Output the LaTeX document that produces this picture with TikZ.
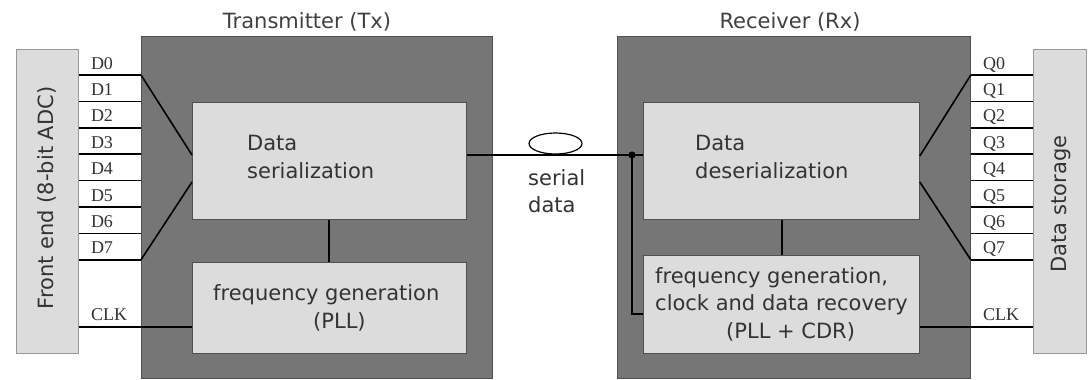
\documentclass[tikz,border=0pt]{standalone}
\usepackage{fontspec}
\newfontfamily\djs{DejaVu Sans}
\newfontfamily\lser{Liberation Serif}
\usetikzlibrary{calc,shapes.geometric}
\definecolor{darkbox}{HTML}{767676}
\definecolor{lightbox}{HTML}{DCDCDC}
\definecolor{boxline}{HTML}{505050}
\definecolor{txtgray}{HTML}{333333}
\begin{document}
\begin{tikzpicture}[x=1pt,y=-1pt,
  outer/.style={draw=boxline,line width=0.8pt,fill=darkbox,anchor=north west,inner sep=0pt},
  inner/.style={draw=boxline,line width=0.8pt,fill=lightbox,anchor=north west,inner sep=0pt},
  side/.style={draw=gray!80,line width=0.8pt,fill=lightbox,anchor=north west,inner sep=0pt},
  sans/.style={font=\djs\fontsize{21}{27.5}\selectfont,text=txtgray,inner sep=0pt},
  lbl/.style={font=\lser\fontsize{18}{20}\selectfont,text=txtgray,inner sep=0pt,anchor=base west},
  wire/.style={line width=1.6pt,black}]
\useasboundingbox (0,0) rectangle (1088,380);
\fill[white] (0,0) rectangle (1088,380);
% boxes
\node[side,minimum width=62pt,minimum height=304pt] (fe) at (16,49) {};
\node[side,minimum width=53pt,minimum height=304pt] (ds) at (1033,49) {};
\node[outer,minimum width=351pt,minimum height=342pt] (tx) at (141,36) {};
\node[outer,minimum width=353pt,minimum height=342pt] (rx) at (617,36) {};
\node[inner,minimum width=274pt,minimum height=117pt] (ser) at (192,102) {};
\node[inner,minimum width=274pt,minimum height=91pt] (txf) at (192,262) {};
\node[inner,minimum width=276pt,minimum height=117pt] (des) at (643,102) {};
\node[inner,minimum width=276pt,minimum height=98pt] (rxf) at (643,255) {};
% titles
\node[sans,text=black!75] (txt) at (307,22) {Transmitter (Tx)};
\node[sans,text=black!75] (rxt) at (790,22) {Receiver (Rx)};
\node[sans,rotate=90] (fet) at (47,198) {Front end (8-bit ADC)};
\node[sans,rotate=90] (dst) at (1061,204) {Data storage};
% texts inside
\node[sans,align=left,anchor=west] (sert) at (247,157) {Data\\serialization};
\node[sans,align=left,anchor=west] (dest) at (695,157) {Data\\deserialization};
\node[sans,align=left,anchor=west] (txft) at (213,308) {frequency generation\\\hspace*{100pt}(PLL)};
\node[sans,align=left,anchor=west] (rxft) at (655,304) {frequency generation,\\clock and data recovery\\\hspace*{71pt}(PLL + CDR)};
\node[sans,align=left,anchor=west] (sdt) at (528,191) {serial\\data};
% parallel data lines
\foreach \i in {0,...,7}{
  \path (fe.east |- 0,{75+26.4*\i}) coordinate (da\i) (tx.west |- 0,{75+26.4*\i}) coordinate (db\i);
  \draw[wire] (da\i) -- (db\i);
  \node[lbl] (dlab\i) at ($(da\i)+(12,-6)$) {D\i};
  \path (rx.east |- 0,{75+26.4*\i}) coordinate (qa\i) (ds.west |- 0,{75+26.4*\i}) coordinate (qb\i);
  \draw[wire] (qa\i) -- (qb\i);
  \node[lbl] (qlab\i) at ($(qa\i)+(12,-6)$) {Q\i};
}
% fan in / out
\coordinate (s1) at (ser.west |- 0,155);
\coordinate (s2) at (ser.west |- 0,182);
\draw[wire] (db0) -- (s1);
\draw[wire] (db7) -- (s2);
\coordinate (r1) at (des.east |- 0,156);
\coordinate (r2) at (des.east |- 0,182);
\draw[wire] (qa0) -- (r1);
\draw[wire] (qa7) -- (r2);
% clock lines
\coordinate (c1) at (fe.east |- 0,327);
\draw[wire] (c1) -- (txf.west |- c1);
\node[lbl] (clk1) at ($(c1)+(12,-7)$) {CLK};
\coordinate (c2) at (ds.west |- 0,327);
\draw[wire] (rxf.east |- c2) -- (c2);
\node[lbl] (clk2) at ($(rx.east |- c2)+(12,-7)$) {CLK};
% internal links
\draw[wire] (ser.south -| 329,0) -- (txf.north -| 329,0);
\draw[wire] (des.south -| 782,0) -- (rxf.north -| 782,0);
% serial link
\coordinate (sa) at (ser.east |- 0,155);
\coordinate (sb) at (des.west |- 0,155);
\draw[wire] (sa) -- (sb);
\node[draw=black,line width=1.2pt,ellipse,minimum width=53pt,minimum height=21pt,inner sep=0pt] (loop) at (555.5,143.5) {};
\coordinate (dot) at (632,155);
\fill (dot) circle (3.6pt);
\draw[wire] (dot) -- (632,314) coordinate (bend) -- (rxf.west |- bend);
\end{tikzpicture}
\end{document}
